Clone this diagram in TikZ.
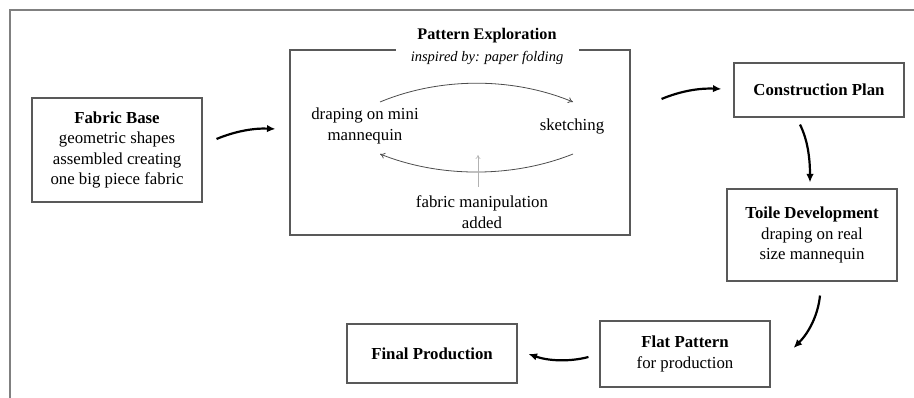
\documentclass[tikz,border=0pt]{standalone}
\usepackage{fontspec}
\setmainfont{Liberation Serif}
\usetikzlibrary{arrows.meta,calc}
\begin{document}
\begin{tikzpicture}[x=1pt,y=-1pt,
  box/.style={draw=black!65,line width=1.1pt,minimum width=170pt,inner sep=0pt,align=center,
    font=\fontsize{16.8}{20.5}\selectfont},
  body/.style={align=center,inner sep=0pt,font=\fontsize{16.8}{20.5}\selectfont},
  flow/.style={line width=2.2pt,-{Latex[length=8.5pt,width=7.5pt]}},
  loop/.style={draw=black!70,line width=0.8pt,-{To[length=5pt,width=6pt]}},
  hint/.style={draw=black!30,line width=0.6pt,-{To[length=4pt,width=5pt]}}]
\useasboundingbox (0,0) rectangle (914,398);
% frame
\coordinate (fbl) at (10,398);
\coordinate (ftl) at (10,10);
\coordinate (ftr) at (914,10);
\draw[black!50,line width=1.5pt] (fbl) -- (ftl) -- (ftr);

% boxes
\node[box,minimum height=104pt] (fb) at (117,150)
  {\textbf{Fabric Base}\\geometric shapes\\assembled creating\\one big piece fabric};
\node[draw=black!65,line width=1.1pt,minimum width=340pt,minimum height=185pt] (pe) at (460,142.5) {};
\node[fill=white,inner sep=0pt,minimum width=183pt,minimum height=24pt,
  font=\fontsize{14.5}{18}\selectfont\itshape] (pes) at (487,58) {inspired by: paper folding};
\node[inner sep=0pt,font=\fontsize{16.2}{20}\selectfont\bfseries] (pet) at (487,36) {Pattern Exploration};
\node[box,minimum height=54pt] (cp) at (819,90) {\textbf{Construction Plan}};
\node[box,minimum height=92pt] (td) at (812,235)
  {\textbf{Toile Development}\\draping on real\\size mannequin};
\node[box,minimum height=66pt] (fp) at (685,354) {\textbf{Flat Pattern}\\for production};
\node[box,minimum height=59pt] (fin) at (432,353.5) {\textbf{Final Production}};

% inner content
\node[body] (drp) at (365,126) {draping on mini\\mannequin};
\node[body] (sk) at (572,126) {sketching};
\node[body] (fm) at (482,212) {fabric manipulation\\added};

\coordinate (l1s) at (380,102);
\coordinate (l1e) at (573,102);
\coordinate (l2s) at (573,154);
\coordinate (l2e) at (380,154);
\draw[loop] (l1s) .. controls (440,77) and (513,77) .. (l1e);
\draw[loop] (l2s) .. controls (513,178) and (440,178) .. (l2e);
\coordinate (h1) at (478,187);
\coordinate (h2) at (478,155);
\draw[hint] (h1) -- (h2);

% flow arrows
\coordinate (a1s) at ($(fb.east)+(14,-11)$);
\coordinate (a1e) at ($(pe.west)+(-14,-13.5)$);
\draw[flow] (a1s) .. controls +(19,-8) and +(-21,-1) .. (a1e);
\coordinate (a2s) at ($(pe.east)+(31,-43.5)$);
\coordinate (a2e) at ($(cp.west)+(-12,-1)$);
\draw[flow] (a2s) .. controls +(19,-8) and +(-22,-1) .. (a2e);
\coordinate (a3s) at ($(cp.south)+(-19,7)$);
\coordinate (a3e) at ($(td.north)+(-2,-6)$);
\draw[flow] (a3s) .. controls +(8,16) and +(0,-23) .. (a3e);
\coordinate (a4s) at ($(td.south)+(8,14)$);
\coordinate (a4e) at ($(fp.east)+(23,-6)$);
\draw[flow] (a4s) .. controls +(-2,20) and +(15,-15) .. (a4e);
\coordinate (a5s) at ($(fp.west)+(-11,3)$);
\coordinate (a5e) at ($(fin.east)+(11,0.5)$);
\draw[flow] (a5s) .. controls +(-19,5) and +(20,7) .. (a5e);
\end{tikzpicture}
\end{document}
